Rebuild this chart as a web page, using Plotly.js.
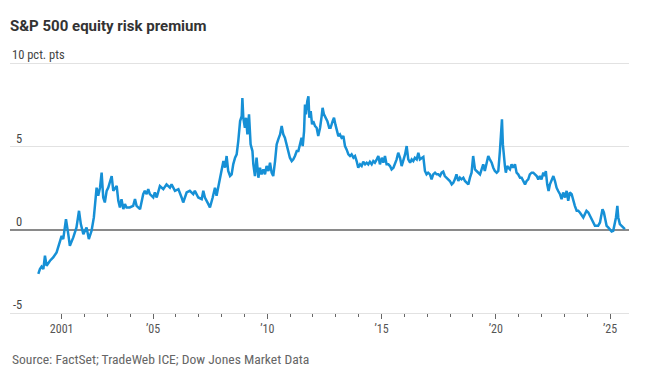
<!DOCTYPE html>
<html>
<head>
<meta charset="utf-8">
<script src="https://cdn.plot.ly/plotly-3.0.1.min.js"></script>
<style>html,body{margin:0;padding:0;background:#fff;}#chart{width:664px;height:378px;}</style>
</head>
<body>
<div id="chart"></div>
<script>
// Decimal years and equity risk premium (percentage points)
const years = [
1999.98,2000.05,2000.12,2000.20,2000.27,2000.34,2000.49,2000.63,2000.78,2000.93,
2001.00,2001.07,2001.19,2001.29,2001.36,2001.51,2001.65,2001.76,2001.84,2001.95,
2002.09,2002.19,2002.31,2002.41,2002.53,2002.60,2002.68,2002.75,2002.82,2002.89,
2002.97,2003.04,2003.19,2003.26,2003.41,2003.48,2003.55,2003.62,2003.70,2003.77,
2003.84,2003.98,2004.13,2004.21,2004.28,2004.43,2004.57,2004.64,2004.72,2004.79,
2004.86,2005.01,2005.08,2005.16,2005.30,2005.45,2005.59,2005.74,2005.81,2005.96,
2006.11,2006.25,2006.32,2006.47,2006.61,2006.76,2006.83,2006.98,2007.13,2007.20,
2007.27,2007.42,2007.49,2007.61,2007.71,2007.78,2007.90,
2008.00,2008.08,2008.15,2008.22,2008.29,2008.37,2008.44,2008.51,2008.59,2008.66,
2008.73,2008.81,2008.88,2008.91,2008.95,2009.02,2009.07,2009.13,2009.20,2009.27,
2009.35,2009.39,2009.46,2009.53,2009.61,2009.68,2009.75,2009.83,2009.90,2009.97,
2010.05,2010.12,2010.19,2010.26,2010.34,2010.41,2010.48,2010.56,2010.63,2010.70,
2010.77,2010.85,2010.92,2010.99,2011.07,2011.14,2011.21,2011.29,2011.36,2011.43,
2011.50,2011.55,2011.61,2011.65,2011.69,2011.75,2011.80,2011.84,2011.90,2011.96,
2012.01,2012.09,2012.16,2012.23,2012.31,2012.38,2012.42,2012.48,2012.57,2012.63,
2012.71,2012.77,2012.86,2012.92,2012.98,2013.04,2013.11,2013.18,2013.25,2013.33,
2013.40,2013.47,2013.55,2013.62,2013.69,2013.77,2013.84,2013.91,2013.98,2014.06,
2014.13,2014.20,2014.28,2014.35,2014.42,2014.49,2014.57,2014.64,2014.71,2014.79,
2014.86,2014.93,2015.01,2015.08,2015.15,2015.22,2015.30,2015.37,2015.44,2015.52,
2015.59,2015.66,2015.73,2015.81,2015.88,2015.95,2016.03,2016.10,2016.17,2016.25,
2016.32,2016.39,2016.46,2016.54,2016.61,2016.68,2016.83,2016.90,2016.97,2017.04,
2017.12,2017.19,2017.26,2017.34,2017.41,2017.48,2017.56,2017.63,2017.70,2017.77,
2017.85,2017.92,2017.99,2018.07,2018.14,2018.21,2018.28,2018.36,2018.43,2018.50,
2018.58,2018.65,2018.72,2018.80,2018.87,2018.94,2019.01,2019.09,2019.16,2019.23,
2019.31,2019.38,2019.45,2019.52,2019.60,2019.67,2019.74,2019.82,2019.89,2019.96,
2020.04,2020.11,2020.18,2020.22,2020.27,2020.31,2020.36,2020.40,2020.44,2020.50,
2020.55,2020.62,2020.69,2020.76,2020.84,2020.91,2020.98,2021.06,2021.13,2021.20,
2021.28,2021.35,2021.42,2021.49,2021.57,2021.64,2021.71,2021.79,2021.86,2021.93,
2022.00,2022.08,2022.15,2022.19,2022.25,2022.31,2022.37,2022.44,2022.52,2022.59,
2022.66,2022.73,2022.81,2022.88,2022.95,2023.03,2023.10,2023.17,2023.24,2023.32,
2023.39,2023.46,2023.54,2023.61,2023.68,2023.76,2023.83,2023.90,2023.97,2024.05,
2024.12,2024.19,2024.27,2024.34,2024.41,2024.48,2024.56,2024.63,2024.67,2024.73,
2024.78,2024.85,2024.92,2024.99,2025.07,2025.14,2025.21,2025.26,2025.32,2025.36,
2025.43,2025.51,2025.58,2025.65
];
const premium = [
-2.65,-2.36,-2.22,-2.36,-1.56,-2.16,-1.86,-1.66,-1.36,-0.66,
-0.36,-0.56,0.64,-0.26,-0.96,-0.46,0.14,1.14,0.34,-0.26,
0.14,-0.56,-0.06,0.74,2.53,2.04,2.53,3.43,1.94,1.64,
2.34,2.53,3.23,2.34,2.63,1.74,1.34,1.84,1.24,1.54,
1.34,1.34,1.44,1.84,1.44,1.24,2.14,2.34,2.14,2.44,
2.14,1.94,2.24,1.94,2.63,2.44,2.73,2.53,2.73,2.34,
2.44,1.94,1.64,2.24,2.34,2.14,2.34,1.94,1.84,2.34,
1.94,1.54,1.34,1.94,2.53,2.04,2.90,
3.53,4.13,3.73,4.43,3.53,3.23,3.33,3.93,4.33,4.53,
5.33,6.53,6.83,7.92,6.73,6.13,6.73,5.73,6.93,5.13,
4.73,3.93,3.23,4.33,3.13,3.73,3.33,3.63,3.33,3.83,
3.53,4.03,3.43,3.23,4.13,5.13,5.43,5.73,6.23,5.73,
5.53,5.13,4.83,4.33,4.13,4.23,4.43,4.73,4.73,5.23,
5.53,5.03,5.93,7.52,6.93,7.72,8.02,6.73,7.13,6.33,
6.53,6.23,6.13,5.63,6.13,6.83,7.33,6.93,6.73,6.53,
6.13,6.13,6.53,6.73,6.33,5.93,5.63,5.73,5.53,5.63,
5.03,4.83,4.53,4.43,4.53,4.33,4.43,4.13,3.73,3.93,
3.83,4.09,3.93,4.03,3.93,4.09,3.93,4.13,4.03,4.23,
4.43,3.93,4.33,4.03,4.43,3.93,3.93,3.83,3.63,3.73,
3.93,4.23,4.63,4.33,3.83,4.13,4.53,5.03,4.23,4.03,
4.23,4.13,4.33,4.23,4.63,4.23,4.37,3.53,3.33,3.43,
3.33,3.03,3.33,3.43,3.33,3.33,3.23,3.43,3.49,3.23,
3.13,3.03,2.93,2.73,2.83,3.03,3.33,2.93,3.13,3.03,
3.13,2.93,2.83,2.73,3.13,3.43,4.43,3.63,3.53,3.43,
3.33,3.63,3.93,3.53,3.93,4.43,4.23,4.03,3.73,3.53,
3.43,3.53,4.73,5.73,6.63,5.13,4.13,3.83,3.43,3.83,
3.73,3.63,3.93,3.73,3.93,3.43,3.33,3.13,3.13,2.93,
2.73,2.93,3.03,3.33,3.43,3.43,3.33,3.23,3.03,3.23,
3.03,3.43,3.23,3.53,2.73,2.33,2.73,3.03,3.23,2.93,
2.53,2.33,2.14,1.84,2.24,1.94,2.34,1.74,2.24,2.14,
1.74,1.44,1.14,1.14,1.04,0.84,0.74,0.94,1.14,1.04,
0.84,0.74,0.44,0.24,0.24,0.24,0.44,0.94,1.24,1.04,
0.64,0.24,0.14,0.00,-0.10,-0.06,0.34,0.74,1.44,0.74,
0.34,0.24,0.14,0.04
];
const majorTickVals = [2001, 2005, 2010, 2015, 2020, 2025];
const majorTickText = ['2001', "\u201905", "\u201910", "\u201915", "\u201920", "\u201925"];
const minorTickVals = [2002,2003,2004,2006,2007,2008,2009,2011,2012,2013,2014,2016,2017,2018,2019,2021,2022,2023,2024];
const yTickVals = [5, 0, -5];
const yTickText = ['5', '0', '-5'];
const yTopVal = 10;
const yTopText = '10 pct. pts';
const titleText = 'S&P 500 equity risk premium';
const sourceText = 'Source: FactSet; TradeWeb ICE; Dow Jones Market Data';

const FONT = 'Roboto, "Liberation Sans", sans-serif';
const NARROW = '"Liberation Sans Narrow", "Roboto Condensed", Roboto, sans-serif';
const plotW = 664 - 10 - 35;
const annotations = [];
yTickVals.forEach((v, i) => {
  annotations.push({
    xref: 'paper', yref: 'y', x: 13.5 / plotW, y: v, xanchor: 'right', yanchor: 'bottom',
    text: yTickText[i], showarrow: false, yshift: -1,
    font: {family: NARROW, size: 12.5, color: '#444'}
  });
});
annotations.push({
  xref: 'paper', yref: 'y', x: 0, y: yTopVal, xanchor: 'left', yanchor: 'bottom',
  text: yTopText, showarrow: false, yshift: -1,
  font: {family: NARROW, size: 12.5, color: '#444'}
});
annotations.push({
  xref: 'paper', yref: 'paper', x: 0, y: 0, xanchor: 'left', yanchor: 'middle',
  yshift: -(358.5 - 313), text: sourceText, showarrow: false,
  font: {family: NARROW, size: 13.6, color: '#666'}
});

const trace = {
  x: years, y: premium, type: 'scatter', mode: 'lines',
  line: {color: '#1690d6', width: 2.5}, hoverinfo: 'skip'
};

const layout = {
  width: 664, height: 378,
  margin: {l: 10, r: 35, t: 62, b: 65},
  paper_bgcolor: '#fff', plot_bgcolor: '#fff',
  showlegend: false,
  title: {
    text: titleText, xref: 'container', yref: 'container',
    x: 10 / 664, xanchor: 'left', y: 1 - 26 / 378, yanchor: 'middle',
    font: {family: FONT, size: 15, color: '#333', weight: 'bold'}
  },
  xaxis: {
    range: [1998.74, 2025.83], fixedrange: true,
    tickmode: 'array', tickvals: majorTickVals, ticktext: majorTickText,
    ticks: 'outside', ticklen: 5, tickwidth: 1, tickcolor: '#666',
    showgrid: false, zeroline: false,
    showline: true, linecolor: '#e2e2e2', linewidth: 1,
    tickfont: {family: NARROW, size: 12, color: '#555'},
    minor: {tickmode: 'array', tickvals: minorTickVals, ticks: 'outside', ticklen: 3, tickwidth: 1, tickcolor: '#666', showgrid: false}
  },
  yaxis: {
    range: [-5, 10.08], fixedrange: true,
    tickmode: 'array', tickvals: [-5, 0, 5, 10], showticklabels: false,
    showgrid: true, gridcolor: '#e2e2e2', gridwidth: 1,
    zeroline: true, zerolinecolor: '#8a8a8a', zerolinewidth: 2,
    showline: false, ticks: ''
  },
  annotations: annotations
};

Plotly.newPlot('chart', [trace], layout, {staticPlot: true, displayModeBar: false});
</script>
</body>
</html>
